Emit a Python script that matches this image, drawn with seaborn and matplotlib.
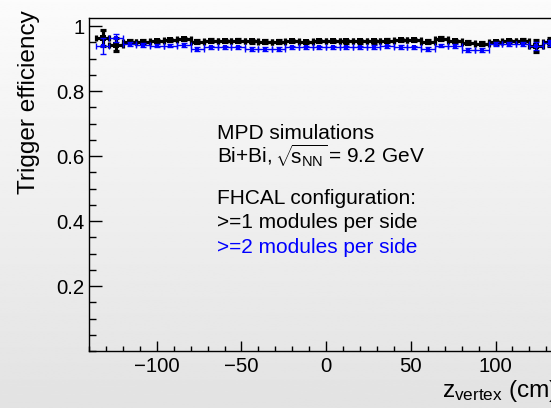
import numpy as np
import pandas as pd
import matplotlib
matplotlib.use("Agg")
import matplotlib.pyplot as plt
import seaborn as sns
from matplotlib.ticker import MultipleLocator, FixedLocator, FixedFormatter

# ---------------- data ----------------
z_centers = [-132, -124, -116, -108, -100, -92, -84, -76, -68, -60, -52, -44,
             -36, -28, -20, -12, -4, 4, 12, 20, 28, 36, 44, 52, 60, 68, 76,
             84, 92, 100, 108, 116, 124, 132]
bin_half_width = 4

eff_1mod = [0.963, 0.943, 0.952, 0.952, 0.954, 0.957, 0.960, 0.952, 0.955,
            0.954, 0.955, 0.953, 0.952, 0.952, 0.954, 0.951, 0.954, 0.954,
            0.953, 0.953, 0.953, 0.955, 0.957, 0.957, 0.952, 0.961, 0.954,
            0.949, 0.946, 0.950, 0.953, 0.955, 0.938, 0.950]
err_1mod = [0.024, 0.020, 0.004, 0.004, 0.004, 0.004, 0.004, 0.004, 0.004,
            0.004, 0.004, 0.004, 0.004, 0.004, 0.004, 0.004, 0.004, 0.004,
            0.004, 0.004, 0.004, 0.004, 0.004, 0.004, 0.004, 0.004, 0.004,
            0.004, 0.004, 0.004, 0.004, 0.004, 0.018, 0.012]

eff_2mod = [0.939, 0.962, 0.946, 0.942, 0.940, 0.940, 0.941, 0.930, 0.934,
            0.934, 0.934, 0.930, 0.929, 0.930, 0.934, 0.934, 0.934, 0.934,
            0.934, 0.934, 0.936, 0.937, 0.935, 0.934, 0.929, 0.940, 0.938,
            0.927, 0.927, 0.944, 0.944, 0.944, 0.938, 0.947]
err_2mod = [0.025, 0.012, 0.006, 0.006, 0.006, 0.006, 0.006, 0.006, 0.006,
            0.006, 0.006, 0.006, 0.006, 0.006, 0.006, 0.006, 0.006, 0.006,
            0.006, 0.006, 0.006, 0.006, 0.006, 0.006, 0.006, 0.006, 0.006,
            0.006, 0.006, 0.006, 0.006, 0.006, 0.012, 0.010]

y_ticks = [0.2, 0.4, 0.6, 0.8, 1.0]
y_tick_labels = ["0.2", "0.4", "0.6", "0.8", "1"]
x_ticks = [-100, -50, 0, 50, 100]

text_lines = ["MPD simulations",
              r"Bi+Bi, $\!\sqrt{\!s_{\mathrm{NN}}}\!$ = 9.2 GeV",
              "FHCAL configuration:",
              ">=1 modules per side",
              ">=2 modules per side"]

df1 = pd.DataFrame({"z": z_centers, "eff": eff_1mod, "err": err_1mod})
df2 = pd.DataFrame({"z": z_centers, "eff": eff_2mod, "err": err_2mod})

# ---------------- style ----------------
sns.set_theme(style="ticks")
plt.rcParams["font.family"] = ["Liberation Sans", "DejaVu Sans"]
plt.rcParams["mathtext.fontset"] = "custom"
plt.rcParams["mathtext.rm"] = "Liberation Sans"
plt.rcParams["mathtext.it"] = "Liberation Sans"
plt.rcParams["mathtext.bf"] = "Liberation Sans:bold"
plt.rcParams["mathtext.sf"] = "Liberation Sans"

W, H = 551, 408
fig = plt.figure(figsize=(W / 100, H / 100), dpi=100)

# gradient background (ROOT-like canvas)
bg = fig.add_axes([0, 0, 1, 1], zorder=0)
grad = np.linspace(0.985, 0.888, 256).reshape(-1, 1)
bg.imshow(grad, aspect="auto", cmap="gray", vmin=0, vmax=1,
          extent=[0, 1, 0, 1], origin="upper")
bg.axis("off")

# axes: left 89px, bottom at 351px from top, top at 18px, right beyond image
ax_left, ax_right = 89, 563.3
ax_top, ax_bottom = 17.9, 351
ax = fig.add_axes([ax_left / W, (H - ax_bottom) / H,
                   (ax_right - ax_left) / W, (ax_bottom - ax_top) / H],
                  zorder=1)
ax.patch.set_alpha(0)

# black: >=1 modules
ax.errorbar(df1["z"], df1["eff"], xerr=bin_half_width, yerr=df1["err"],
            fmt="none", ecolor="black", elinewidth=2.3, capsize=2.5,
            capthick=2.3, zorder=3)
sns.scatterplot(data=df1, x="z", y="eff", color="black", marker="s", s=14,
                linewidth=0, ax=ax, zorder=4, legend=False)

# blue: >=2 modules
ax.errorbar(df2["z"], df2["eff"], xerr=bin_half_width, yerr=df2["err"],
            fmt="none", ecolor="blue", elinewidth=1.0, capsize=2.0,
            capthick=1.0, zorder=5)
sns.scatterplot(data=df2, x="z", y="eff", color="blue", marker="s", s=7,
                linewidth=0, ax=ax, zorder=6, legend=False)

ax.set_xlim(-140, 140)
ax.set_ylim(0, 1.025)
ax.set_xlabel("")
ax.set_ylabel("")

ax.xaxis.set_major_locator(FixedLocator(x_ticks))
ax.xaxis.set_minor_locator(MultipleLocator(10))
ax.yaxis.set_major_locator(FixedLocator(y_ticks))
ax.yaxis.set_major_formatter(FixedFormatter(y_tick_labels))
ax.yaxis.set_minor_locator(MultipleLocator(0.05))

ax.tick_params(axis="both", which="both", direction="in", colors="black",
               width=1.0)
ax.tick_params(axis="x", which="major", length=7.2, labelsize=14.7, pad=4.5)
ax.tick_params(axis="x", which="minor", length=3.6)
ax.tick_params(axis="y", which="major", length=9.0, labelsize=14.7, pad=3)
ax.tick_params(axis="y", which="minor", length=5.0)
for sp in ax.spines.values():
    sp.set_color("black")
    sp.set_linewidth(1.0)

# axis titles (ROOT style, aligned to axis ends)
fig.text(29 / W, 1 - 10 / H, "Trigger efficiency", rotation=90,
         ha="center", va="top", fontsize=17.6, color="black")
fig.text(442 / W, 1 - 397 / H, r"z$_{\mathrm{vertex}}$ (cm)",
         ha="left", va="baseline", fontsize=17.6, color="black")

# annotation text
baselines = [139, 163.3, 204.3, 228, 252.7]
colors = ["black", "black", "black", "black", "blue"]
for line, yb, c in zip(text_lines, baselines, colors):
    fig.text(217 / W, 1 - yb / H, line, ha="left", va="baseline",
             fontsize=15, color=c)

fig.savefig("out.png", dpi=100)
